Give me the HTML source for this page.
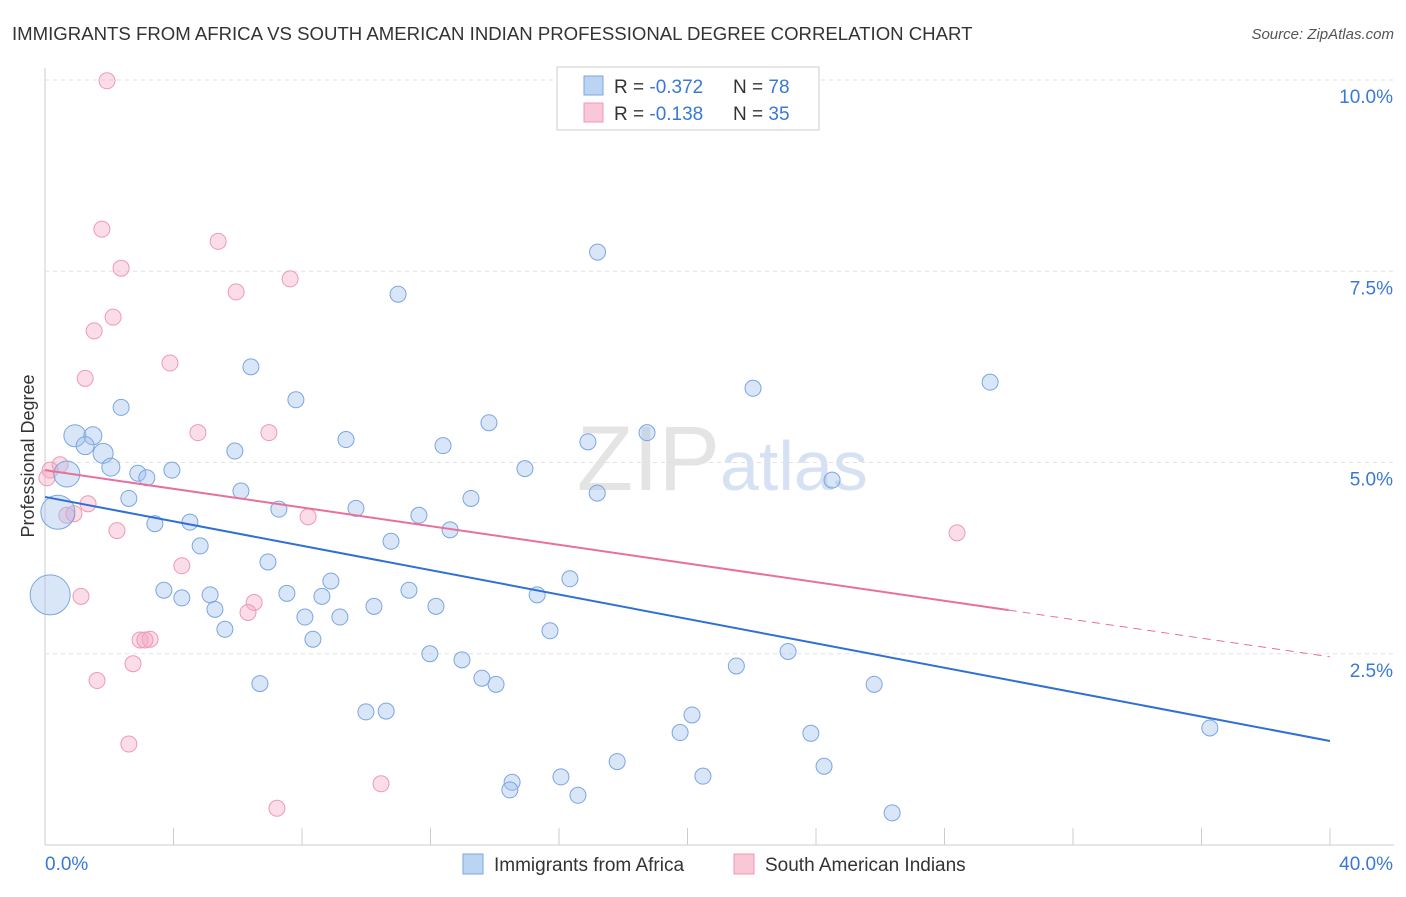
<!DOCTYPE html>
<html><head><meta charset="utf-8"><style>
body{margin:0;background:#fff;font-family:"Liberation Sans",sans-serif}
svg text{font-family:"Liberation Sans",sans-serif}
</style></head><body>
<svg id="c" width="1406" height="892" xmlns="http://www.w3.org/2000/svg">
<text x="12" y="40" font-size="18.6" fill="#333">IMMIGRANTS FROM AFRICA VS SOUTH AMERICAN INDIAN PROFESSIONAL DEGREE CORRELATION CHART</text>
<text x="1394" y="39" font-size="15" fill="#555" font-style="italic" text-anchor="end">Source: ZipAtlas.com</text>
<text x="720" y="490" font-size="92" fill="#e4e4e4" text-anchor="end" font-family="Liberation Serif">ZIP</text>
<text x="720" y="490" font-size="70" fill="#d6e2f3">atlas</text>
<text x="34" y="456" font-size="18" fill="#333" text-anchor="middle" transform="rotate(-90 34 456)">Professional Degree</text>
<g id="grid"></g><g id="marks"></g>
<g>
<rect x="557" y="67" width="262" height="63" fill="#fff" stroke="#ccc"/>
<rect x="584" y="76" width="19" height="19" fill="#bcd4f4" stroke="#7aa6e0"/>
<rect x="584" y="103" width="19" height="19" fill="#f9c8d6" stroke="#ee9ab4"/>
<text x="614" y="93" font-size="19" fill="#333">R = <tspan fill="#3a78d8">-0.372</tspan><tspan x="733">N = </tspan><tspan fill="#3a78d8">78</tspan></text>
<text x="614" y="120" font-size="19" fill="#333">R = <tspan fill="#3a78d8"> -0.138</tspan><tspan x="733">N = </tspan><tspan fill="#3a78d8">35</tspan></text>
</g>
<g>
<rect x="463" y="854" width="20" height="20" fill="#bcd4f4" stroke="#7aa6e0"/>
<text x="494" y="871" font-size="19" fill="#333">Immigrants from Africa</text>
<rect x="734" y="854" width="20" height="20" fill="#f9c8d6" stroke="#ee9ab4"/>
<text x="765" y="871" font-size="19" fill="#333">South American Indians</text>
</g>
</svg>
<script>
const xTicks=[0,40];
const yTicks=[2.5,5.0,7.5,10.0];
const blueX=[17.2,10.99,6.41,22.04,29.42,2.37,7.81,13.82,9.37,12.39,18.74,16.9,0.93,1.49,1.25,1.81,2.05,2.89,3.17,3.95,0.68,5.91,14.94,24.5,6.1,2.61,13.26,7.28,9.68,11.64,0.4,4.51,3.42,12.61,10.77,4.83,6.94,17.19,16.34,8.9,3.7,5.14,4.26,7.53,8.62,11.33,15.32,5.29,10.24,12.17,8.09,9.18,5.6,8.34,15.72,11.98,12.98,23.13,21.52,13.6,14.04,6.69,25.81,9.99,10.62,20.14,19.77,23.84,36.26,17.81,24.25,14.54,16.06,20.48,14.47,16.59,26.37,0.16];
const blueY=[7.75,7.2,6.25,5.97,6.05,5.72,5.82,5.52,5.3,5.22,5.39,5.27,5.35,5.35,5.22,5.12,4.94,4.86,4.8,4.9,4.85,5.15,4.92,4.77,4.627,4.53,4.53,4.39,4.4,4.31,4.35,4.22,4.2,4.12,3.97,3.91,3.7,4.6,3.48,3.45,3.33,3.27,3.23,3.29,3.25,3.33,3.27,3.08,3.12,3.12,2.98,2.98,2.82,2.69,2.8,2.5,2.42,2.53,2.34,2.18,2.1,2.11,2.1,1.74,1.75,1.7,1.47,1.46,1.53,1.09,1.03,0.82,0.89,0.9,0.72,0.65,0.42,3.27];
const blueR=[8,8,8,8,8,8,8,8,8,8,8,8,11,9,9,10,9,8,8,8,13,8,8,8,8,8,8,8,8,8,17,8,8,8,8,8,8,8,8,8,8,8,8,8,8,8,8,8,8,8,8,8,8,8,8,8,8,8,8,8,8,8,8,8,8,8,8,8,8,8,8,8,8,8,8,8,8,20];
const pinkX=[1.93,1.77,5.39,2.37,7.63,5.95,2.12,1.53,3.89,1.25,4.76,6.97,0.16,0.47,1.34,0.68,0.9,2.24,8.19,28.39,4.26,1.12,6.51,6.32,2.96,3.27,3.11,2.74,1.62,2.61,10.46,7.22,0.06];
const pinkY=[9.99,8.05,7.89,7.54,7.4,7.23,6.9,6.72,6.3,6.1,5.39,5.39,4.9,4.97,4.46,4.31,4.33,4.11,4.29,4.08,3.65,3.25,3.17,3.04,2.68,2.69,2.68,2.37,2.15,1.32,0.8,0.48,4.8];
const blueFit=[4.55,1.36];
const pinkFit=[4.90,2.46];
const pinkSolidEnd=30;
const X0=45,X1=1330,Y0=845,Yper=76.5;
const sx=v=>X0+v/40*(X1-X0), sy=v=>Y0-v*Yper;
const NS="http://www.w3.org/2000/svg";
const grid=document.getElementById('grid'), marks=document.getElementById('marks');
function mk(tag,at,parent){const e=document.createElementNS(NS,tag);for(const k in at)e.setAttribute(k,at[k]);parent.appendChild(e);return e;}
let ax=mk('line',{x1:X0,y1:68,x2:X0,y2:Y0,stroke:'#ccc'},grid);


let bx=mk('line',{x1:X0,y1:Y0,x2:1394,y2:Y0,stroke:'#ccc'},grid);


for(let i=0;i<=10;i++){let t=mk('line',{x1:sx(i*4),y1:Y0,x2:sx(i*4),y2:828,stroke:'#ccc'},grid);

}
yTicks.forEach(v=>{let g=mk('line',{x1:X0,y1:sy(v),x2:1394,y2:sy(v),stroke:'#e2e2e2','stroke-dasharray':'4,4'},grid);


let t=mk('text',{x:1393,y:sy(v)+23,'font-size':19,fill:'#3a78d8','text-anchor':'end'},grid);t.textContent=v.toFixed(1)+'%';

});
xTicks.forEach((v,i)=>{let t=mk('text',{x:i?1393:45,y:870,'font-size':19,fill:'#3a78d8','text-anchor':i?'end':'start'},grid);t.textContent=v.toFixed(1)+'%';

});
pinkX.forEach((x,i)=>{let c=mk('circle',{cx:sx(x),cy:sy(pinkY[i]),r:8,fill:'rgba(246,170,195,0.4)',stroke:'#ee9ab4','stroke-width':1},marks);

});
blueX.forEach((x,i)=>{let c=mk('circle',{cx:sx(x),cy:sy(blueY[i]),r:blueR[i],fill:'rgba(160,192,238,0.4)',stroke:'#7aa6e0','stroke-width':1},marks);

});
const pf=x=>pinkFit[0]+(pinkFit[1]-pinkFit[0])*x/40;
let l1=mk('line',{x1:sx(0),y1:sy(blueFit[0]),x2:sx(40),y2:sy(blueFit[1]),stroke:'#2f6fd6','stroke-width':2},marks);


let l2=mk('line',{x1:sx(0),y1:sy(pf(0)),x2:sx(pinkSolidEnd),y2:sy(pf(pinkSolidEnd)),stroke:'#e8709a','stroke-width':2},marks);


let l3=mk('line',{x1:sx(pinkSolidEnd),y1:sy(pf(pinkSolidEnd)),x2:sx(40),y2:sy(pf(40)),stroke:'#e8709a','stroke-width':1,'stroke-dasharray':'8,6'},marks);


</script>
</body></html>
